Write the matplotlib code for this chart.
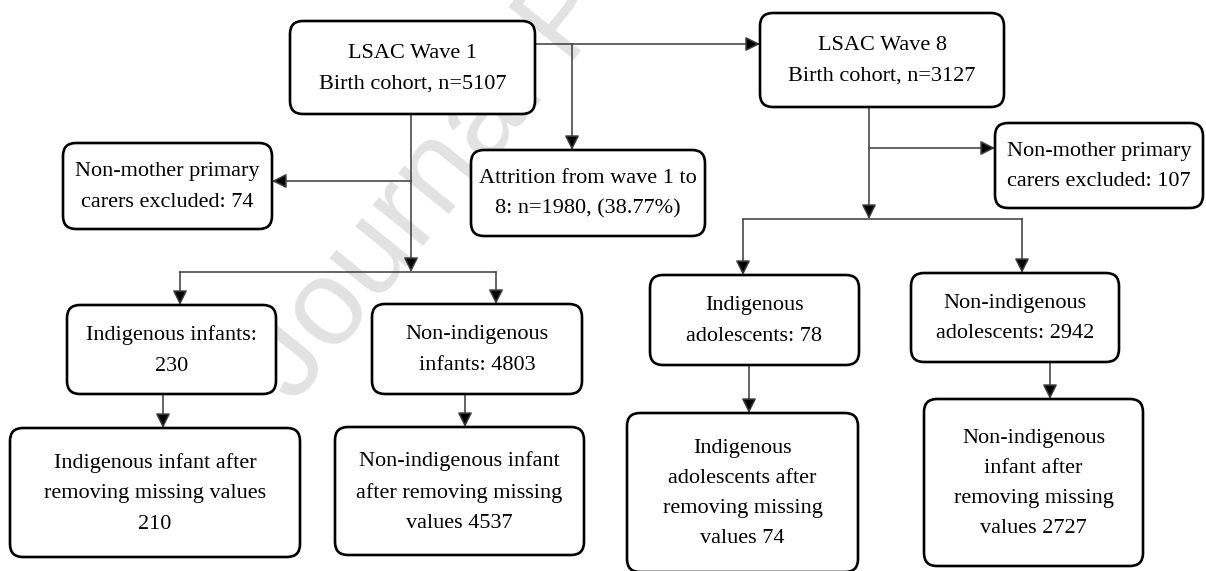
import matplotlib
matplotlib.use("Agg")
import matplotlib.pyplot as plt
from matplotlib.patches import FancyBboxPatch

# node names and their labels
nodes = ["wave1", "wave8", "nm1", "attr", "nm8",
         "ind_inf", "non_inf", "ind_inf2", "non_inf2",
         "ind_ado", "non_ado", "ind_ado2", "non_ado2"]
labels = {
    "wave1": "LSAC Wave 1\nBirth cohort, n=5107",
    "wave8": "LSAC Wave 8\nBirth cohort, n=3127",
    "nm1": "Non-mother primary\ncarers excluded: 74",
    "attr": "Attrition from wave 1 to\n8: n=1980, (38.77%)",
    "nm8": "Non-mother primary\ncarers excluded: 107",
    "ind_inf": "Indigenous infants:\n230",
    "non_inf": "Non-indigenous\ninfants: 4803",
    "ind_inf2": "Indigenous infant after\nremoving missing values\n210",
    "non_inf2": "Non-indigenous infant\nafter removing missing\nvalues 4537",
    "ind_ado": "Indigenous\nadolescents: 78",
    "non_ado": "Non-indigenous\nadolescents: 2942",
    "ind_ado2": "Indigenous\nadolescents after\nremoving missing\nvalues 74",
    "non_ado2": "Non-indigenous\ninfant after\nremoving missing\nvalues 2727",
}

# layout: box (x0, y0, x1, y1) in pixels, y going down
layout = {
    "wave1": (290, 21, 535, 114),
    "wave8": (760, 13, 1004, 107),
    "nm1": (63, 143, 272, 229),
    "attr": (471, 150, 705, 236),
    "nm8": (995, 123, 1203, 208),
    "ind_inf": (67, 305, 276, 394),
    "non_inf": (372, 304, 582, 394),
    "ind_inf2": (10, 428, 300, 557),
    "non_inf2": (335, 427, 584, 555),
    "ind_ado": (650, 275, 859, 365),
    "non_ado": (911, 273, 1119, 362),
    "ind_ado2": (627, 413, 858, 572),
    "non_ado2": (924, 399, 1143, 566),
}

# plain connector lines and arrows ((x0, y0), (x1, y1))
lines = [((180, 272), (496, 272)), ((743, 219), (1022, 219))]
arrows = [
    ((535, 44), (760, 44)), ((572, 44), (572, 150)),
    ((411, 114), (411, 272)), ((411, 181), (272, 181)),
    ((180, 272), (180, 305)), ((496, 272), (496, 304)),
    ((163, 394), (163, 428)), ((465, 394), (465, 427)),
    ((869, 107), (869, 219)), ((869, 148), (995, 148)),
    ((743, 219), (743, 275)), ((1022, 219), (1022, 273)),
    ((749, 365), (749, 413)), ((1050, 362), (1050, 399)),
]

fig = plt.figure(figsize=(12.06, 5.71), dpi=100)
ax = fig.add_axes([0, 0, 1, 1])
ax.set_xlim(0, 1206)
ax.set_ylim(571, 0)
ax.axis("off")

# watermark
ax.text(295, 405, "Journal Pre-proof", rotation=51, rotation_mode="anchor",
        ha="left", va="baseline", fontsize=88, color="#e2e2e2",
        family="Liberation Sans", zorder=0)

for a, b in lines:
    ax.plot([a[0], b[0]], [a[1], b[1]], color="#3a3a3a", lw=1.1, zorder=1)

for a, b in arrows:
    ax.annotate("", xy=b, xytext=a,
                arrowprops=dict(arrowstyle="-|>", color="#3a3a3a", fc="black",
                                lw=1.1, mutation_scale=22,
                                shrinkA=0, shrinkB=0),
                zorder=1)

for n in nodes:
    x0, y0, x1, y1 = layout[n]
    box = FancyBboxPatch((x0, y0), x1 - x0, y1 - y0,
                         boxstyle="round,pad=0,rounding_size=13",
                         fc="white", ec="black", lw=1.9, zorder=2)
    ax.add_patch(box)
    ax.text((x0 + x1) / 2, (y0 + y1) / 2 + 1, labels[n], ha="center", va="center",
            fontsize=16, family="Liberation Serif", linespacing=1.8, zorder=3)

fig.savefig("out.png", dpi=100)
